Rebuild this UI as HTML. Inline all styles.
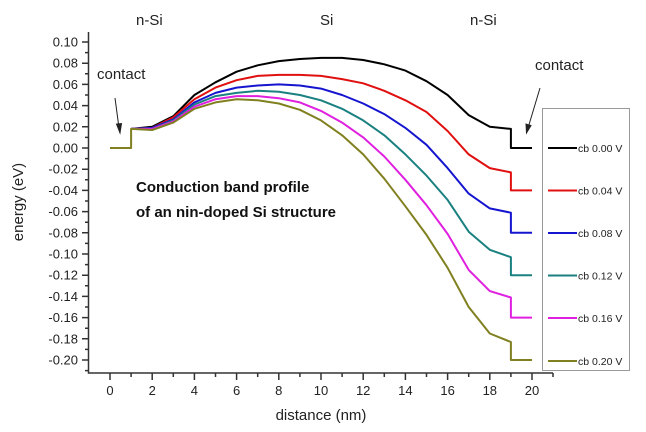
<!DOCTYPE html>
<html><head><meta charset="utf-8"><style>
body{margin:0;background:#fff}
svg{display:block;font-family:"Liberation Sans",Arial,sans-serif}
</style></head><body>
<svg width="646" height="432" viewBox="0 0 646 432">
<rect width="646" height="432" fill="#fff"/>
<!-- axes -->
<g stroke="#333" stroke-width="1.5" fill="none">
<path d="M88.5 32 V373 H553"/>
<!-- y major ticks -->
<path d="M82 42H88M82 63.2H88M82 84.4H88M82 105.6H88M82 126.8H88M82 148H88M82 169.2H88M82 190.4H88M82 211.6H88M82 232.8H88M82 254H88M82 275.2H88M82 296.4H88M82 317.6H88M82 338.8H88M82 360H88"/>
<path d="M85 52.6H88M85 73.8H88M85 95H88M85 116.2H88M85 137.4H88M85 158.6H88M85 179.8H88M85 201H88M85 222.2H88M85 243.4H88M85 264.6H88M85 285.8H88M85 307H88M85 328.2H88M85 349.4H88M85 370.6H88"/>
<!-- x ticks -->
<path d="M110 373V380M152.2 373V380M194.4 373V380M236.6 373V380M278.8 373V380M321 373V380M363.2 373V380M405.4 373V380M447.6 373V380M489.8 373V380M532 373V380"/>
<path d="M131.1 373V377M173.3 373V377M215.5 373V377M257.7 373V377M299.9 373V377M342.1 373V377M384.3 373V377M426.5 373V377M468.7 373V377M510.9 373V377M553 373V377"/>
</g>
<g font-size="13" fill="#222" text-anchor="end">
<text x="78" y="46.5">0.10</text><text x="78" y="67.7">0.08</text><text x="78" y="88.9">0.06</text><text x="78" y="110.1">0.04</text><text x="78" y="131.3">0.02</text><text x="78" y="152.5">0.00</text><text x="78" y="173.7">-0.02</text><text x="78" y="194.9">-0.04</text><text x="78" y="216.1">-0.06</text><text x="78" y="237.3">-0.08</text><text x="78" y="258.5">-0.10</text><text x="78" y="279.7">-0.12</text><text x="78" y="300.9">-0.14</text><text x="78" y="322.1">-0.16</text><text x="78" y="343.3">-0.18</text><text x="78" y="364.5">-0.20</text>
</g>
<g font-size="13" fill="#222" text-anchor="middle">
<text x="110" y="395">0</text><text x="152.2" y="395">2</text><text x="194.4" y="395">4</text><text x="236.6" y="395">6</text><text x="278.8" y="395">8</text><text x="321" y="395">10</text><text x="363.2" y="395">12</text><text x="405.4" y="395">14</text><text x="447.6" y="395">16</text><text x="489.8" y="395">18</text><text x="532" y="395">20</text>
</g>
<text x="321" y="420" font-size="15" text-anchor="middle" fill="#222">distance (nm)</text>
<text transform="translate(23,202) rotate(-90)" font-size="15" text-anchor="middle" fill="#222">energy (eV)</text>
<g font-size="15" fill="#222">
<text x="136" y="25">n-Si</text><text x="320" y="25">Si</text><text x="470" y="25">n-Si</text>
<text x="97" y="79">contact</text><text x="535" y="70">contact</text>
</g>
<g stroke="#222" stroke-width="1" fill="#222">
<path d="M115 98 L119 128" fill="none"/><path d="M120 133 L116.5 124 L121.5 123.5Z"/>
<path d="M540 88 L528 128" fill="none"/><path d="M526.5 133 L526 124 L531 125.5Z"/>
</g>
<g font-size="15" font-weight="bold" fill="#111">
<text x="136" y="192">Conduction band profile</text>
<text x="136" y="217">of an nin-doped Si structure</text>
</g>
<!-- curves -->
<g fill="none" stroke-width="2" stroke-linejoin="round">
<polyline stroke="#000" points="131.1,128.9 152.2,126.8 173.3,116.2 194.4,95 215.5,82.3 236.6,71.7 257.7,65.3 278.8,61.1 299.9,59 321,57.9 342.1,57.9 363.2,60 384.3,64.3 405.4,70.6 426.5,81.2 447.6,95 468.7,115.1 489.8,126.8 510.9,128.9 510.9,148 532,148"/>
<polyline stroke="#e01010" points="131.1,128.9 152.2,127.9 173.3,117.3 194.4,99.2 215.5,87.6 236.6,80.2 257.7,75.9 278.8,74.9 299.9,74.9 321,75.9 342.1,79.1 363.2,83.3 384.3,90.8 405.4,100.3 426.5,112 447.6,131 468.7,154.4 489.8,168.1 510.9,172.4 510.9,190.4 532,190.4"/>
<polyline stroke="#1515d0" points="131.1,128.9 152.2,127.9 173.3,119.4 194.4,102.4 215.5,92.9 236.6,87.6 257.7,85.5 278.8,84.4 299.9,85.5 321,88.6 342.1,95 363.2,103.5 384.3,114.1 405.4,127.9 426.5,144.8 447.6,168.1 468.7,193.6 489.8,208.4 510.9,212.7 510.9,232.8 532,232.8"/>
<polyline stroke="#1a8080" points="131.1,128.9 152.2,128.9 173.3,120.4 194.4,104.5 215.5,96.1 236.6,92.9 257.7,90.8 278.8,91.8 299.9,95 321,100.3 342.1,108.8 363.2,120.4 384.3,135.3 405.4,154.4 426.5,175.6 447.6,199.9 468.7,231.7 489.8,249.8 510.9,257.2 510.9,275.2 532,275.2"/>
<polyline stroke="#e020e0" points="131.1,128.9 152.2,128.9 173.3,121.5 194.4,106.7 215.5,99.2 236.6,96.1 257.7,96.1 278.8,98.2 299.9,102.4 321,110.9 342.1,122.6 363.2,137.4 384.3,156.5 405.4,179.8 426.5,205.2 447.6,233.9 468.7,269.9 489.8,291.1 510.9,297.5 510.9,317.6 532,317.6"/>
<polyline stroke="#808020" points="110,148 131.1,148 131.1,128.9 152.2,130 173.3,122.6 194.4,108.8 215.5,102.4 236.6,99.2 257.7,100.3 278.8,103.5 299.9,109.8 321,120.4 342.1,135.3 363.2,154.4 384.3,178.7 405.4,206.3 426.5,234.9 447.6,267.8 468.7,307 489.8,333.5 510.9,342 510.9,360 532,360"/>
</g>
<!-- legend -->
<rect x="542.5" y="108.5" width="87" height="262" fill="#fff" stroke="#999" stroke-width="1"/>
<g stroke-width="2">
<path d="M548 148H577" stroke="#000"/><path d="M548 190.5H577" stroke="#e01010"/><path d="M548 233H577" stroke="#1515d0"/><path d="M548 275.5H577" stroke="#1a8080"/><path d="M548 318H577" stroke="#e020e0"/><path d="M548 361H577" stroke="#808020"/>
</g>
<g font-size="10.5" fill="#222">
<text x="578" y="152">cb 0.00 V</text><text x="578" y="194.5">cb 0.04 V</text><text x="578" y="237">cb 0.08 V</text><text x="578" y="279.5">cb 0.12 V</text><text x="578" y="322">cb 0.16 V</text><text x="578" y="365">cb 0.20 V</text>
</g>
</svg>
</body></html>
